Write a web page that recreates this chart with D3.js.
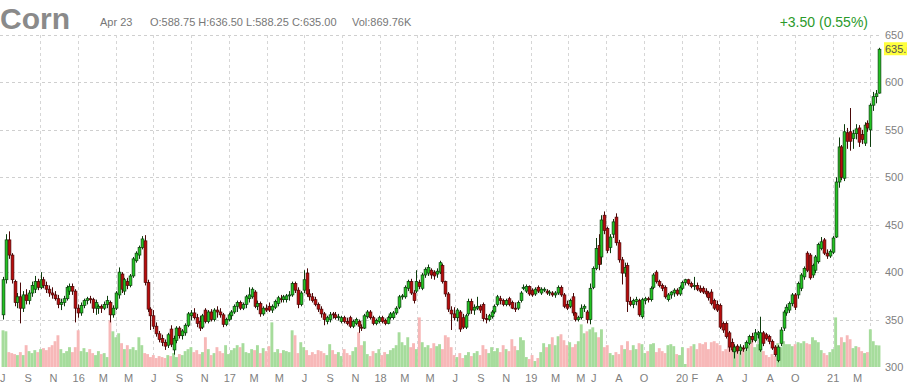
<!DOCTYPE html>
<html><head><meta charset="utf-8">
<script src="https://cdn.jsdelivr.net/npm/d3@7"></script>
<style>
body{margin:0;background:#fff;}
svg{display:block;font-family:Arial,"Liberation Sans",sans-serif;}
</style>
</head><body>
<svg id="chart" width="907" height="387"></svg>
<script>
// ---------- DATA (weekly candles, Corn front month, Jul 2015 - Apr 2021) ----------
const firstWeek = "2015-07-03";
const openP = [355,392,434,418,390,368,374,362,376,370,378,382,390,384,392,386,382,378,376,372,366,368,372,380,385,380,362,357,365,370,372,371,362,362,364,362,366,368,355,362,376,398,380,390,386,396,412,418,426,433,389,361,354,343,335,330,326,323,340,318,328,341,333,336,344,354,357,352,348,342,360,348,358,350,360,358,355,345,350,354,358,364,368,362,366,372,374,379,364,367,356,362,364,360,363,367,372,371,371,375,376,388,381,366,381,399,377,374,371,366,361,356,348,350,356,355,352,348,352,348,352,343,346,348,342,341,353,358,352,346,348,352,349,346,352,352,357,363,374,374,383,390,378,380,389,383,397,399,402,400,398,400,407,390,377,360,356,352,358,352,342,356,369,360,362,364,366,351,350,353,358,366,372,370,366,372,368,362,362,370,383,380,385,381,377,384,378,381,380,378,378,376,378,384,376,366,364,374,357,350,352,362,358,350,384,404,428,416,460,446,426,440,458,431,413,399,407,369,366,369,370,353,370,372,371,384,400,390,386,384,371,376,378,381,377,383,389,392,388,385,386,383,383,380,378,379,370,366,365,346,346,336,326,316,322,317,320,320,325,332,328,334,318,336,334,332,327,321,307,325,341,357,360,367,376,376,383,395,420,418,397,402,411,425,434,420,417,421,437,495,532,499,547,548,541,546,552,545,536,557,550,576,585,588.75];
const highP = [395,440,443,420,392,378,389,380,382,381,390,396,393,400,395,390,386,384,380,376,372,375,386,388,388,382,366,368,372,374,375,373,371,366,366,369,375,370,365,380,405,400,394,394,398,416,422,428,438,439,392,363,360,347,338,334,329,336,344,333,343,343,340,346,358,360,362,356,354,356,362,360,361,362,364,362,357,352,357,360,366,370,370,368,376,384,384,381,370,369,364,366,368,366,371,375,376,376,377,380,390,390,384,380,402,404,382,378,374,368,364,358,354,358,358,358,356,354,354,352,354,350,352,350,345,356,360,360,354,351,354,354,351,354,358,359,364,376,377,386,392,393,381,402,392,399,405,408,404,402,404,412,409,391,379,364,363,362,360,356,356,372,372,366,374,366,368,356,356,360,366,376,375,372,372,374,370,368,370,380,387,387,386,383,384,386,384,384,382,381,380,380,386,386,378,370,372,378,358,354,366,366,360,388,406,436,440,460,464,448,440,456,462,434,416,410,410,374,372,374,372,373,374,374,385,399,402,392,388,386,378,380,383,383,386,391,393,393,390,395,389,386,385,383,380,382,372,370,367,348,348,338,330,324,324,324,323,328,334,336,340,338,353,338,336,334,329,323,323,342,360,366,369,378,378,390,399,406,422,420,409,418,431,437,436,424,424,438,500,542,534,556,552,573,550,556,555,550,558,560,578,590,592,636.5];
const lowP = [350,388,414,388,364,362,346,358,366,366,374,378,381,382,383,378,374,372,370,362,360,364,370,376,376,347,352,354,362,366,367,357,355,356,357,360,362,347,352,360,372,378,376,382,384,394,410,414,424,386,358,339,340,332,326,322,318,320,321,313,325,330,329,333,342,349,350,342,338,340,346,346,348,348,352,352,342,343,348,350,356,358,360,360,362,368,372,362,360,353,354,358,358,357,361,364,368,368,368,370,374,378,362,364,378,374,370,368,364,358,352,344,345,347,351,350,349,346,346,344,341,341,344,336,338,340,351,350,344,344,346,346,344,345,350,350,355,361,371,372,380,376,367,378,382,381,394,396,393,392,394,398,388,374,358,339,349,348,337,340,340,354,356,355,360,357,348,346,348,351,356,364,366,364,364,364,361,358,360,368,381,378,375,374,375,378,376,379,376,375,374,373,376,374,362,360,362,354,348,348,350,358,346,345,382,402,402,408,440,420,420,436,428,410,387,395,358,364,362,365,353,351,366,368,369,382,388,384,380,372,369,372,374,375,375,381,386,386,383,381,380,378,377,374,370,365,360,358,340,336,330,316,316,309,314,313,316,317,323,326,326,330,316,322,328,324,318,311,305,322,338,354,357,364,360,372,380,392,400,392,394,399,409,423,418,414,415,419,436,489,497,496,530,528,530,540,532,535,533,548,532,570,578,588.25];
const closeP = [392,434,418,392,368,374,362,376,370,378,386,390,384,392,386,382,378,376,372,366,368,372,384,385,380,362,357,365,370,372,371,362,368,364,362,366,370,355,362,378,400,382,392,386,396,414,420,426,435,389,361,354,343,335,329,326,322,334,324,330,341,333,338,344,356,357,352,346,341,354,348,358,350,360,358,355,345,350,355,358,364,368,362,366,374,376,382,364,367,356,362,360,360,364,369,373,371,374,375,376,388,381,366,378,392,377,374,370,366,361,356,350,352,355,355,352,353,352,348,346,343,348,350,343,341,354,358,352,346,349,352,348,346,352,356,357,362,374,375,384,390,378,370,390,385,397,403,405,397,396,401,410,390,377,361,356,352,360,340,342,354,369,360,363,364,360,351,350,354,358,364,374,370,366,370,366,362,361,368,378,384,385,377,376,382,380,382,382,378,379,376,378,384,376,364,362,370,357,350,352,362,364,350,383,404,425,408,455,444,423,437,453,431,413,399,405,369,366,370,371,355,371,372,371,383,397,390,386,383,374,376,379,381,377,384,389,392,388,385,386,382,380,379,377,373,367,362,360,342,339,332,321,318,321,317,321,319,326,332,329,336,336,336,325,330,327,320,313,321,339,358,363,367,376,363,388,397,404,402,394,407,416,429,432,420,417,422,436,495,532,500,548,538,538,546,551,537,540,555,552,576,585,588,635];
const volumeK = [1480,1440,600,560,520,480,600,480,880,640,560,680,600,720,760,680,800,880,1040,1280,720,560,640,800,600,800,1480,640,760,600,720,560,480,640,520,560,400,1880,1440,1200,1360,960,720,880,720,800,680,1200,880,560,520,400,480,360,440,400,360,480,440,560,400,520,480,640,720,800,600,680,520,600,1200,720,480,560,800,640,560,880,520,680,760,880,800,960,600,560,720,680,880,560,760,640,840,1800,600,720,560,680,640,600,1480,1280,560,1000,800,680,480,600,520,680,640,560,480,920,680,520,600,440,720,560,480,640,800,1400,880,1040,520,440,640,560,720,480,600,520,680,760,880,1400,1000,880,1200,800,960,720,2000,1000,800,880,760,960,840,920,720,1280,1200,800,480,400,560,360,480,600,440,560,640,480,880,720,560,800,640,760,600,880,720,640,1120,840,680,1200,1080,400,320,480,240,360,600,960,800,920,1200,880,1240,1320,1080,880,1000,800,920,1040,1720,1360,1440,1520,1600,1400,1200,1520,800,880,560,480,600,520,880,720,1040,680,880,720,960,920,560,640,920,960,600,760,640,560,880,920,840,520,480,800,120,760,840,920,720,960,920,1000,720,1000,1040,960,880,640,720,800,680,840,760,600,800,680,880,1200,800,920,1240,640,480,400,520,440,960,800,1040,920,920,840,920,1000,960,1040,960,920,1200,1080,1000,680,560,480,600,720,2000,880,1200,1000,1280,1120,760,840,800,640,560,600,1520,1040,880,870];

const priceTicks = [300,350,400,450,500,550,600,650];
const monthLabelDates = ["2015-07-01","2015-09-01","2015-11-01","2016-01-01","2016-03-01","2016-05-01","2016-07-01","2016-09-01","2016-11-01","2017-01-01","2017-03-01","2017-05-01","2017-07-01","2017-09-01","2017-11-01","2018-01-01","2018-03-01","2018-05-01","2018-07-01","2018-09-01","2018-11-01","2019-01-01","2019-03-01","2019-05-01","2019-06-01","2019-08-01","2019-10-01","2020-01-01","2020-02-01","2020-04-01","2020-06-01","2020-08-01","2020-10-01","2021-01-01","2021-03-01"];
const monthLabels = ["J","S","N","16","M","M","J","S","N","17","M","M","J","S","N","18","M","M","J","S","N","19","M","M","J","A","O","20","F","A","J","A","O","21","M"];
const gridDates = ["2015-10-01","2016-01-01","2016-04-01","2016-07-01","2016-10-01","2017-01-01","2017-04-01","2017-07-01","2017-10-01","2018-01-01","2018-04-01","2018-07-01","2018-10-01","2019-01-01","2019-04-01","2019-07-01","2019-10-01","2020-01-01","2020-04-01","2020-07-01","2020-10-01","2021-01-01","2021-04-01"];

const titleText = "Corn";
const headerDate = "Apr 23";
const headerOHLC = "O:588.75 H:636.50 L:588.25 C:635.00";
const headerVol = "Vol:869.76K";
const changeText = "+3.50 (0.55%)";
const lastLabel = "635.00";

// ---------- DRAW ----------
const parse = d3.timeParse("%Y-%m-%d");
const t0 = parse(firstWeek);
const data = closeP.map((c,i)=>({date:d3.timeWeek.offset(t0,i),o:openP[i],h:highP[i],l:lowP[i],c:c,v:volumeK[i]}));

const svg = d3.select("#chart");
const plotLeft=0, plotRight=880, plotTop=35, plotBottom=367;

const x = d3.scaleTime().domain([data[0].date, data[data.length-1].date]).range([3, 879]);
const y = d3.scaleLinear().domain([300,650]).range([plotBottom, plotTop]);
const yv = d3.scaleLinear().domain([0,2500]).range([plotBottom, plotBottom-62]);

// horizontal grid
svg.append("g").selectAll("line").data(priceTicks.slice(1)).join("line")
  .attr("x1",plotLeft).attr("x2",plotRight)
  .attr("y1",d=>Math.round(y(d))+0.5).attr("y2",d=>Math.round(y(d))+0.5)
  .attr("stroke","#cfcfcf").attr("stroke-dasharray","3,3").attr("stroke-width",1);
// vertical grid
svg.append("g").selectAll("line").data(gridDates.map(parse)).join("line")
  .attr("x1",d=>Math.round(x(d))+0.5).attr("x2",d=>Math.round(x(d))+0.5)
  .attr("y1",plotTop).attr("y2",plotBottom)
  .attr("stroke","#d6d6d6").attr("stroke-dasharray","3,3").attr("stroke-width",1);

// volume
const bw = 2.9;
svg.append("g").selectAll("rect").data(data).join("rect")
  .attr("x",d=>x(d.date)-bw/2).attr("width",bw)
  .attr("y",d=>yv(d.v)).attr("height",d=>plotBottom-yv(d.v))
  .attr("fill",d=>d.c>=d.o?"#a6dc9c":"#f7b8b8");

// candles
const up="#22c322", upLine="#0d3d0d", dn="#b80c0c", dnLine="#4a0808";
const cg = svg.append("g");
cg.selectAll("line").data(data).join("line")
  .attr("x1",d=>Math.round(x(d.date))+0.5).attr("x2",d=>Math.round(x(d.date))+0.5)
  .attr("y1",d=>y(d.h)).attr("y2",d=>y(d.l))
  .attr("stroke",d=>d.c>=d.o?upLine:dnLine).attr("stroke-width",1);
cg.selectAll("rect").data(data).join("rect")
  .attr("x",d=>Math.round(x(d.date))-0.9).attr("width",2.8)
  .attr("y",d=>y(Math.max(d.o,d.c)))
  .attr("height",d=>Math.max(1,Math.abs(y(d.o)-y(d.c))))
  .attr("fill",d=>d.c>=d.o?up:dn)
  .attr("stroke",d=>d.c>=d.o?upLine:dnLine).attr("stroke-width",0.7);

// right axis
const yAxis = d3.axisRight(y).tickValues(priceTicks).tickSize(0).tickPadding(0);
const ya = svg.append("g").attr("transform",`translate(885,0)`).call(yAxis);
ya.select(".domain").remove();
ya.selectAll("text").attr("fill","#808080").style("font-size","11px").style("font-family","Arial,'Liberation Sans',sans-serif");

// last price box (clipped at the right edge as in the original)
svg.append("rect").attr("x",884).attr("y",y(635)-7).attr("width",30).attr("height",13).attr("fill","#ffff3c");
svg.append("text").attr("x",885).attr("y",y(635)+4).attr("fill","#555").style("font-size","11px").text(lastLabel);

// bottom axis
const xAxis = d3.axisBottom(x).tickValues(monthLabelDates.map(parse)).tickSize(0).tickPadding(0)
  .tickFormat((d,i)=>monthLabels[i]);
const xa = svg.append("g").attr("transform",`translate(0,372)`).call(xAxis);
xa.select(".domain").remove();
xa.selectAll("text").attr("fill","#808080").style("font-size","11px").style("font-family","Arial,'Liberation Sans',sans-serif").attr("dy","0.9em");

// header
svg.append("text").attr("x",0).attr("y",29).attr("fill","#8a8a8a").style("font-size","30px").style("font-weight","bold").text(titleText);
svg.append("text").attr("x",100).attr("y",26).attr("fill","#777").style("font-size","11px").text(headerDate);
svg.append("text").attr("x",150).attr("y",26).attr("fill","#777").style("font-size","11px").text(headerOHLC);
svg.append("text").attr("x",352).attr("y",26).attr("fill","#777").style("font-size","11px").text(headerVol);
svg.append("text").attr("x",868).attr("y",27).attr("text-anchor","end").attr("fill","#2b9a2b").style("font-size","14px").text(changeText);
</script>
</body></html>
